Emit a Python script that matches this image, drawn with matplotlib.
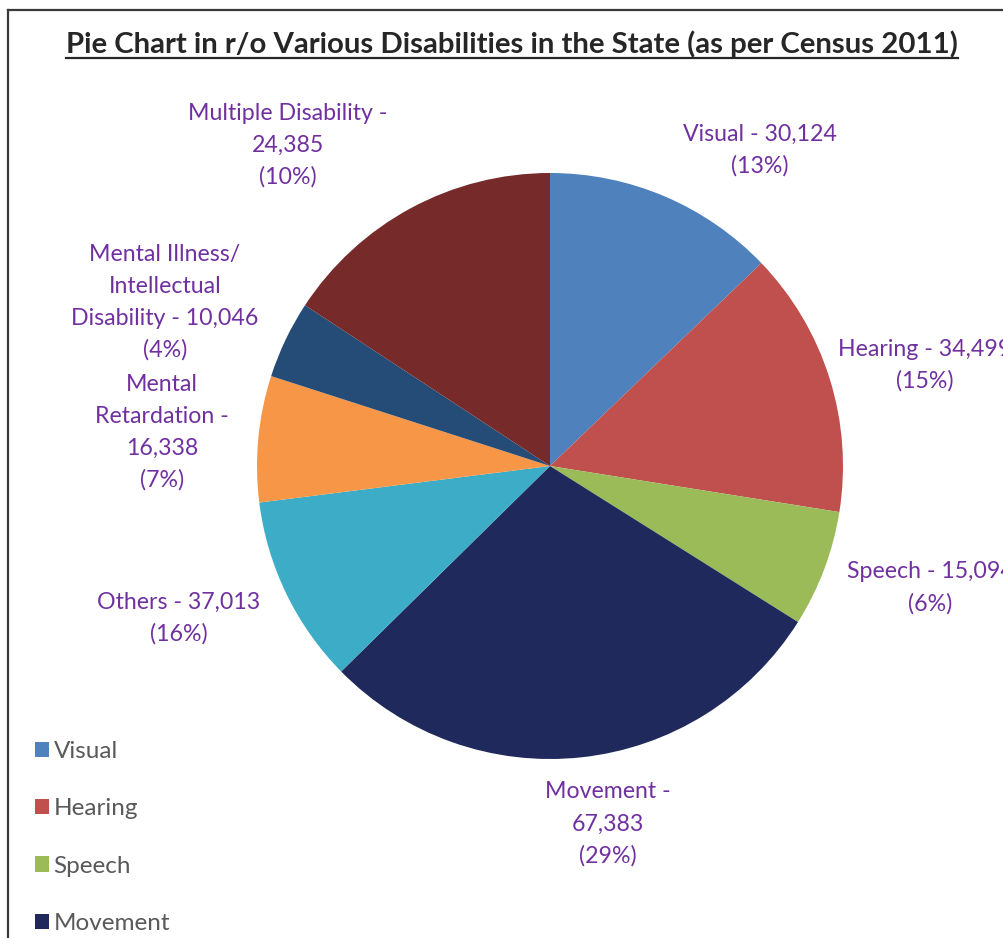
import matplotlib
matplotlib.use("Agg")
import matplotlib.pyplot as plt
from matplotlib.lines import Line2D

# ---- data (slice order clockwise from 12 o'clock, as drawn) ----
slice_values = [30124, 34499, 15094, 67383, 24385, 16338, 10046, 37013]
slice_colors = ["#4F81BD", "#C0504D", "#9BBB59", "#1F295C",
                "#3DACC6", "#F79646", "#254C76", "#772A2A"]
legend_names = ["Visual", "Hearing", "Speech", "Movement",
                "Others", "Mental Retardation",
                "Mental Illness/ Intellectual Disability", "Multiple Disability"]
# data labels exactly as printed on the chart (one per slice)
label_lines = [
    ["Visual - 30,124", "(13%)"],
    ["Hearing - 34,499", "(15%)"],
    ["Speech - 15,094", "(6%)"],
    ["Movement -", "67,383", "(29%)"],
    ["Others - 37,013", "(16%)"],
    ["Mental", "Retardation -", "16,338", "(7%)"],
    ["Mental Illness/", "Intellectual", "Disability - 10,046", "(4%)"],
    ["Multiple Disability -", "24,385", "(10%)"],
]
title = "Pie Chart in r/o Various Disabilities in the State (as per Census 2011)"

# ---- layout (pixel coordinates, y from top) ----
W, H = 1004, 938
label_pos = [(760, 134), (925, 349), (930, 572), (608, 792),
             (179, 602), (162, 384), (165, 254), (288, 113)]
line_step = 32
FONT = "Lato"
PURPLE = "#7030A0"

fig = plt.figure(figsize=(W / 100, H / 100), dpi=100)
fig.patch.set_facecolor("white")
ax = fig.add_axes([0, 0, 1, 1])
ax.set_xlim(0, W)
ax.set_ylim(0, H)
ax.set_aspect("equal")
ax.axis("off")

wedges, _ = ax.pie(slice_values, colors=slice_colors, startangle=90,
                   counterclock=False, center=(550, H - 466), radius=293,
                   wedgeprops=dict(linewidth=0))
ax.set_xlim(0, W)
ax.set_ylim(0, H)

for (cx, y0), lines in zip(label_pos, label_lines):
    for i, ln in enumerate(lines):
        ax.text(cx, H - (y0 + i * line_step), ln, ha="center", va="center",
                color=PURPLE, fontsize=16.7, family=FONT, clip_on=False)

# legend
leg = fig.legend(wedges, legend_names, loc="upper left",
                 bbox_to_anchor=(23 / W, 1 - 729 / H), frameon=False,
                 prop=dict(family=FONT, size=17.5), labelcolor="#595959",
                 handlelength=0.58, handleheight=0.58, handletextpad=0.18,
                 labelspacing=1.49, borderpad=0)

# title with underline
t = fig.text(512 / W, 1 - 53.5 / H, title, ha="center", va="baseline",
             fontsize=21.2, fontweight="bold", family=FONT, color="#262626")
fig.canvas.draw()
bb = t.get_window_extent(fig.canvas.get_renderer())
fig.add_artist(Line2D([bb.x0 / W, bb.x1 / W], [1 - 58 / H, 1 - 58 / H],
                      color="#262626", lw=1.6))

# frame
fig.add_artist(Line2D([8.5 / W, 8.5 / W], [0, 1 - 10 / H], color="#3a3a3a", lw=1.6))
fig.add_artist(Line2D([8.5 / W, 1], [1 - 10 / H, 1 - 10 / H], color="#3a3a3a", lw=1.6))

fig.savefig("out.png", dpi=100, facecolor="white")
